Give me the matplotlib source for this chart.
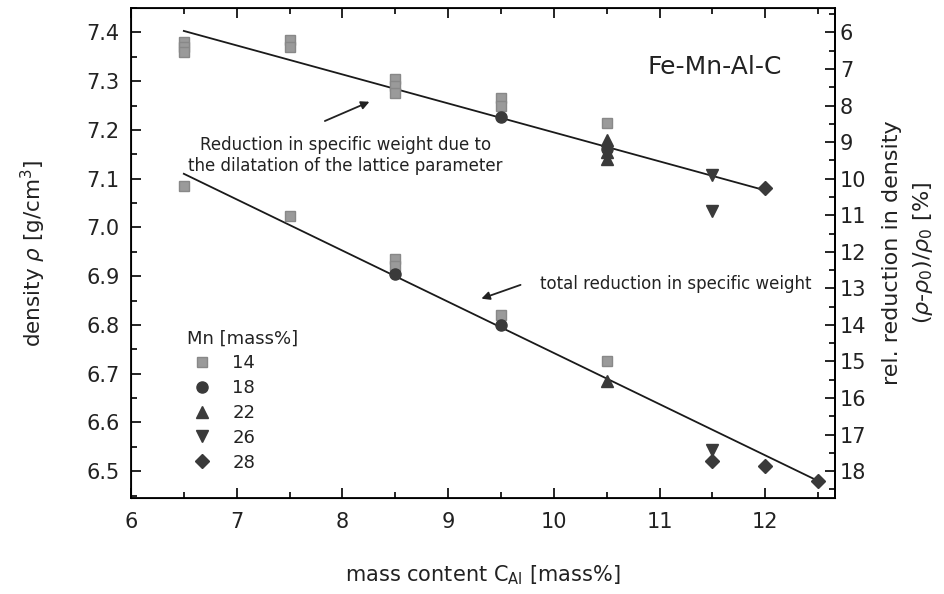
import matplotlib
matplotlib.use("Agg")
import matplotlib.pyplot as plt

# Mn groups: (x = Al content, y = density)
mn14_x = [6.5, 6.5, 6.5, 7.5, 7.5, 8.5, 8.5, 8.5, 9.5, 9.5, 10.5,
          6.5, 7.5, 8.5, 8.5, 9.5, 10.5]
mn14_y = [7.38, 7.37, 7.36, 7.385, 7.37, 7.305, 7.29, 7.275, 7.265, 7.25, 7.214,
          7.084, 7.024, 6.935, 6.92, 6.82, 6.725]
mn18_x = [9.5, 10.5, 8.5, 9.5]
mn18_y = [7.226, 7.16, 6.905, 6.80]
mn22_x = [10.5, 10.5, 10.5, 10.5]
mn22_y = [7.18, 7.155, 7.14, 6.685]
mn26_x = [11.5, 11.5, 11.5]
mn26_y = [7.108, 7.034, 6.544]
mn28_x = [12.0, 11.5, 12.0, 12.5]
mn28_y = [7.08, 6.52, 6.51, 6.48]

# fitted lines
fit_upper_x = [6.5, 12.0]
fit_upper_y = [7.403, 7.076]
fit_lower_x = [6.5, 12.5]
fit_lower_y = [7.11, 6.48]

x_ticks = [6, 7, 8, 9, 10, 11, 12]
y_ticks = [6.5, 6.6, 6.7, 6.8, 6.9, 7.0, 7.1, 7.2, 7.3, 7.4]
r_ticks = list(range(6, 19))

dark = "#3a3a3a"
txt = "#222222"


def rho_to_rel(rho):
    # right axis: 7.4 -> 6 %, 6.5 -> 18 %
    return 6 + (7.4 - rho) * 12 / 0.9


def main():
    fig = plt.figure(figsize=(9.45, 5.94), dpi=100)
    ax = fig.add_axes([0.1386, 0.1616, 0.745, 0.8249])

    ax.plot(fit_upper_x, fit_upper_y, color="#1a1a1a", lw=1.3, zorder=2)
    ax.plot(fit_lower_x, fit_lower_y, color="#1a1a1a", lw=1.3, zorder=2)

    ax.plot(mn14_x, mn14_y, "s", color="#9a9a9a", ms=6.5, mec="#888888", ls="none", label="14", zorder=3)
    ax.plot(mn18_x, mn18_y, "o", color=dark, ms=8, ls="none", label="18", zorder=3)
    ax.plot(mn22_x, mn22_y, "^", color=dark, ms=9, ls="none", label="22", zorder=3)
    ax.plot(mn26_x, mn26_y, "v", color=dark, ms=9, ls="none", label="26", zorder=3)
    ax.plot(mn28_x, mn28_y, "D", color=dark, ms=7, ls="none", label="28", zorder=3)

    ax.set_xlim(6, 12.66)
    ax.set_ylim(6.445, 7.44)
    ax.set_xticks(x_ticks)
    ax.set_xticks([v + 0.5 for v in x_ticks], minor=True)
    ax.set_yticks(y_ticks)
    ax.set_yticklabels(["%.1f" % v for v in y_ticks])
    ax.set_yticks([v + 0.05 for v in y_ticks] + [6.45], minor=True)
    ax.tick_params(which="both", direction="in", top=True, right=False,
                   labelsize=15, labelcolor=txt, width=1.2)
    ax.tick_params(which="major", length=7)
    ax.tick_params(which="minor", length=4)
    ax.tick_params(axis="x", pad=10)
    ax.tick_params(axis="y", pad=8)
    for s in ax.spines.values():
        s.set_linewidth(1.3)

    ax.set_xlabel(r"mass content C$_{\mathregular{Al}}$ [mass%]", fontsize=15, color=txt, labelpad=23)
    ax.set_ylabel(r"density $\rho$ [g/cm$^{\mathregular{3}}$]", fontsize=15.5, color=txt, labelpad=28)

    ax2 = ax.twinx()
    lo, hi = ax.get_ylim()
    ax2.set_ylim(rho_to_rel(lo), rho_to_rel(hi))
    ax2.set_yticks(r_ticks)
    ax2.set_yticks([v + 0.5 for v in r_ticks[:-1]] + [5.5, 18.5], minor=True)
    ax2.tick_params(which="both", direction="in", labelsize=15, labelcolor=txt, width=1.2)
    ax2.tick_params(which="major", length=7)
    ax2.tick_params(which="minor", length=4)
    ax2.set_ylabel("rel. reduction in density\n" + r"$(\rho$-$\rho_0)/\rho_0$ [%]",
                   fontsize=16, color=txt, labelpad=11, linespacing=1.5)
    ax2.spines["right"].set_linewidth(1.3)

    ax.text(11.52, 7.33, "Fe-Mn-Al-C", fontsize=18, color=txt, ha="center", va="center")
    ax.text(8.03, 7.148, "Reduction in specific weight due to\nthe dilatation of the lattice parameter",
            fontsize=12, color=txt, ha="center", va="center", linespacing=1.25)
    ax.annotate("", xy=(8.28, 7.26), xytext=(7.81, 7.216),
                arrowprops=dict(arrowstyle="-|>", color="#222222", lw=1.3, mutation_scale=12))
    ax.text(9.87, 6.884, "total reduction in specific weight", fontsize=12, color=txt,
            ha="left", va="center")
    ax.annotate("", xy=(9.29, 6.852), xytext=(9.71, 6.884),
                arrowprops=dict(arrowstyle="-|>", color="#222222", lw=1.3, mutation_scale=12))

    leg = ax.legend(title="Mn [mass%]", loc="upper left", bbox_to_anchor=(0.062, 0.37),
                    frameon=False, fontsize=13, title_fontsize=13, labelspacing=0.38,
                    handletextpad=0.9, handlelength=1.6, borderpad=0.2,
                    alignment="left")
    for t in leg.get_texts():
        t.set_color(txt)
    leg.get_title().set_color(txt)

    fig.savefig("out.png", dpi=100)


if __name__ == "__main__":
    main()
